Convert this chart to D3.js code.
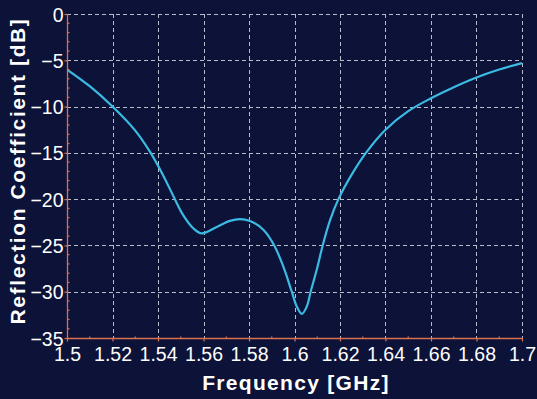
<!DOCTYPE html>
<html>
<head>
<meta charset="utf-8">
<script src="https://cdn.jsdelivr.net/npm/d3@7"></script>
<style>
  html, body { margin: 0; padding: 0; background: #0c1238; }
  svg { display: block; }
  text { font-family: "Liberation Sans", Arial, sans-serif; fill: #ffffff; }
</style>
</head>
<body>
<svg id="chart" width="537" height="399"></svg>
<script>
// Measured reflection coefficient (S11) of the antenna
const frequencyGHz = [1.500, 1.510, 1.520, 1.530, 1.5365, 1.542, 1.547, 1.551, 1.5555, 1.5592,
  1.5658, 1.5716, 1.5760, 1.5804, 1.5863, 1.5911, 1.5951, 1.5988, 1.6010, 1.6032,
  1.6054, 1.6071, 1.6098, 1.6124, 1.6156, 1.6193, 1.6250, 1.6314, 1.6400, 1.6500,
  1.6600, 1.6700, 1.6800, 1.6900, 1.7000];
const reflectionDB = [-6.0, -7.8, -10.0, -12.6, -14.9, -17.3, -19.8, -21.7, -23.15, -23.7,
  -23.0, -22.35, -22.15, -22.35, -23.3, -25.0, -27.3, -30.0, -31.6, -32.4,
  -31.6, -30.0, -27.6, -25.0, -22.3, -20.0, -17.4, -15.0, -12.5, -10.5,
  -9.1, -7.9, -6.85, -6.0, -5.3];

const xTicks = [1.5, 1.52, 1.54, 1.56, 1.58, 1.6, 1.62, 1.64, 1.66, 1.68, 1.7];
const xMinorTicks = [1.51, 1.53, 1.55, 1.57, 1.59, 1.61, 1.63, 1.65, 1.67, 1.69];
const yTicks = [0, -5, -10, -15, -20, -25, -30, -35];
const yMinorTicks = d3.range(-34, 0, 1).filter(v => v % 5 !== 0);

const xTitle = "Frequency [GHz]";
const yTitle = "Reflection Coefficient [dB]";

const svg = d3.select("#chart");
const plot = { left: 67, right: 522, top: 14, bottom: 338 };

const x = d3.scaleLinear().domain([1.5, 1.7]).range([plot.left, plot.right]);
const y = d3.scaleLinear().domain([-35, 0]).range([plot.bottom, plot.top]);

const gridColor = "#b9bccb";
const axisColor = "#d9714f";

// dashed grid
const grid = svg.append("g").attr("stroke", gridColor).attr("stroke-width", 1)
  .attr("stroke-dasharray", "4,3").attr("shape-rendering", "crispEdges");
grid.selectAll("line.v").data(xTicks.slice(1)).join("line")
  .attr("x1", d => Math.round(x(d)) + 0.5).attr("x2", d => Math.round(x(d)) + 0.5)
  .attr("y1", plot.top).attr("y2", plot.bottom);
grid.selectAll("line.h").data(yTicks.slice(0, -1)).join("line")
  .attr("y1", d => Math.round(y(d)) + 0.5).attr("y2", d => Math.round(y(d)) + 0.5)
  .attr("x1", plot.left).attr("x2", plot.right);

// curve
svg.append("defs").append("clipPath").attr("id", "plotClip")
  .append("rect").attr("x", plot.left).attr("y", plot.top - 2)
  .attr("width", plot.right - plot.left + 2).attr("height", plot.bottom - plot.top + 2);

const line = d3.line()
  .x((d, i) => x(frequencyGHz[i]))
  .y(d => y(d))
  .curve(d3.curveCatmullRom.alpha(0.5));

svg.append("path")
  .datum(reflectionDB)
  .attr("clip-path", "url(#plotClip)")
  .attr("fill", "none")
  .attr("stroke", "#3bbbe3")
  .attr("stroke-width", 2.2)
  .attr("stroke-linejoin", "round")
  .attr("d", line);

// axes
const xAxis = svg.append("g").attr("transform", `translate(0,${plot.bottom + 0.5})`)
  .call(d3.axisBottom(x).tickValues(xTicks).tickSize(3).tickFormat(d3.format("")));
const yAxis = svg.append("g").attr("transform", `translate(${plot.left + 0.5},0)`)
  .call(d3.axisLeft(y).tickValues(yTicks).tickSize(3).tickFormat(d3.format("")));

[xAxis, yAxis].forEach(g => {
  g.select(".domain").attr("stroke", axisColor).attr("stroke-width", 1.3);
  g.selectAll(".tick line").attr("stroke", axisColor).attr("stroke-width", 1.2);
  g.selectAll(".tick text").attr("fill", "#ffffff")
    .style("font-size", "19.5px").style("font-family", "'Liberation Sans', Arial, sans-serif");
});
xAxis.select(".domain").attr("d", `M${plot.left},0H${plot.right + 1}`);
yAxis.select(".domain").attr("d", `M0,${plot.bottom + 1}V${plot.top}`);
xAxis.selectAll(".tick text").attr("y", 9).attr("dy", "0.71em");
yAxis.selectAll(".tick text").attr("x", -4).attr("dy", "0.36em");

// minor ticks, drawn inside the plot area
xAxis.selectAll("line.minor").data(xMinorTicks).join("line")
  .attr("x1", d => x(d)).attr("x2", d => x(d)).attr("y1", 0).attr("y2", -2)
  .attr("stroke", axisColor).attr("stroke-width", 1.2);
yAxis.selectAll("line.minor").data(yMinorTicks).join("line")
  .attr("y1", d => y(d)).attr("y2", d => y(d)).attr("x1", 0).attr("x2", 2)
  .attr("stroke", axisColor).attr("stroke-width", 1.2);

// axis titles
svg.append("text")
  .attr("x", 296).attr("y", 390)
  .attr("text-anchor", "middle")
  .style("font-size", "21px").style("font-weight", "bold").style("letter-spacing", "1.3px")
  .text(xTitle);

svg.append("text")
  .attr("transform", "translate(25,171) rotate(-90)")
  .attr("text-anchor", "middle")
  .style("font-size", "21px").style("font-weight", "bold").style("letter-spacing", "1.6px")
  .text(yTitle);
</script>
</body>
</html>
